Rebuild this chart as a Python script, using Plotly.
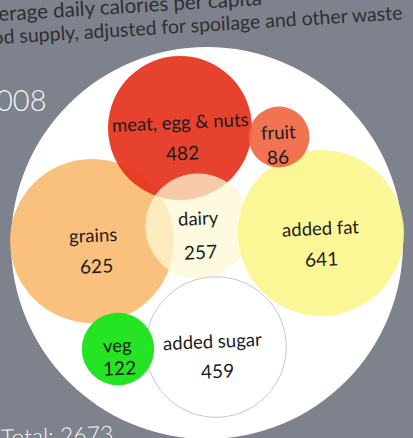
import math
import plotly.graph_objects as go

# ---------------- data ----------------
categories = ["meat, egg & nuts", "fruit", "grains", "dairy", "added fat", "veg", "added sugar"]
calories = [482, 86, 625, 257, 641, 122, 459]
total_calories = 2673
year_text = "008"
title_line1 = "erage daily calories per capita"
title_line2 = "od supply, adjusted for spoilage and other waste"

# ---------------- layout / style ----------------
W, H = 413, 438
BG = "#7e828c"
K = 3.28  # px radius per sqrt(calorie)

centres = {
    "meat, egg & nuts": (180, 128),
    "fruit": (279, 137),
    "grains": (92, 241),
    "dairy": (198, 226),
    "added fat": (321, 233),
    "veg": (118, 349),
    "added sugar": (216, 347),
}
fills = {
    "meat, egg & nuts": ("rgb(229,50,28)", 0.92),
    "fruit": ("rgb(240,100,62)", 0.9),
    "grains": ("rgb(249,190,118)", 0.95),
    "dairy": ("rgb(252,248,212)", 0.75),
    "added fat": ("rgb(251,246,140)", 0.9),
    "veg": ("rgb(22,226,22)", 0.94),
    "added sugar": ("rgb(255,255,255)", 1.0),
}
lines = {
    "added sugar": ("#c8c8c8", 1),
}
label_offsets = {  # (dx label, dy label, dx value, dy value)
    "meat, egg & nuts": (0, -6, 2, 24),
    "fruit": (-1, -5, -1, 19),
    "grains": (1, -6, 4, 24),
    "dairy": (0, -8, 2, 25),
    "added fat": (-1, -5, 0, 25),
    "veg": (-1, -4, 1, 18),
    "added sugar": (-4, -6, 1, 23),
}
draw_order = ["grains", "meat, egg & nuts", "dairy", "added fat", "fruit", "added sugar", "veg"]

FONT = "Lato"
TXT = "#1c1c1c"
TILT = -2.5

shapes = []
# outer white plate
shapes.append(dict(type="circle", xref="x", yref="y", x0=207 - 196, x1=207 + 196,
                   y0=243 - 196, y1=243 + 196, fillcolor="white", line=dict(width=0), layer="below"))

val = dict(zip(categories, calories))
for name in draw_order:
    cx, cy = centres[name]
    r = K * math.sqrt(val[name])
    col, op = fills[name]
    lc, lw = lines.get(name, (col, 0))
    shapes.append(dict(type="circle", xref="x", yref="y", x0=cx - r, x1=cx + r, y0=cy - r, y1=cy + r,
                       fillcolor=col, opacity=op, line=dict(color=lc, width=lw), layer="above"))

annotations = []
for name in categories:
    cx, cy = centres[name]
    dxl, dyl, dxv, dyv = label_offsets[name]
    annotations.append(dict(x=cx + dxl, y=cy + dyl, xref="x", yref="y", text=name, showarrow=False,
                            textangle=TILT, font=dict(family=FONT, size=18.5, color=TXT)))
    annotations.append(dict(x=cx + dxv, y=cy + dyv, xref="x", yref="y", text=str(val[name]), showarrow=False,
                            textangle=TILT, font=dict(family=FONT, size=19, color=TXT)))

# header and footer texts
annotations.append(dict(x=130, y=5, xref="x", yref="y", text=title_line1, showarrow=False, textangle=-3.5,
                        font=dict(family=FONT, size=20.5, color="#2e2f33")))
annotations.append(dict(x=197, y=24, xref="x", yref="y", text=title_line2, showarrow=False, textangle=-3.5,
                        font=dict(family=FONT, size=19.5, color="#2e2f33")))
annotations.append(dict(x=21, y=99, xref="x", yref="y", text=year_text, showarrow=False,
                        font=dict(family=FONT, size=29, color="#f4f4f4", weight=300)))
annotations.append(dict(x=57, y=435, xref="x", yref="y", text="Total: " + str(total_calories), showarrow=False,
                        textangle=-2, font=dict(family=FONT, size=23, color="#f4f4f4", weight=300)))

fig = go.Figure()
fig.add_trace(go.Scatter(x=[centres[c][0] for c in categories], y=[centres[c][1] for c in categories],
                         mode="markers", marker=dict(size=1, opacity=0), hoverinfo="skip", showlegend=False))
fig.update_layout(
    width=W, height=H, margin=dict(l=0, r=0, t=0, b=0),
    paper_bgcolor=BG, plot_bgcolor=BG,
    xaxis=dict(range=[0, W], visible=False, fixedrange=True),
    yaxis=dict(range=[H, 0], visible=False, fixedrange=True),
    shapes=shapes, annotations=annotations, showlegend=False,
)
fig.write_html("out.html")
